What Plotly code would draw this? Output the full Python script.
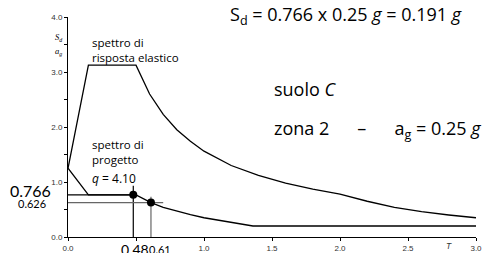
import plotly.graph_objects as go

# Elastic response spectrum (Sd/ag vs T)
T_el = [0.0, 0.15, 0.5, 0.6, 0.7, 0.8, 0.9, 1.0, 1.2, 1.4, 1.6, 1.8, 2.0, 2.2, 2.4, 2.6, 2.8, 3.0]
S_el = [1.25, 3.125, 3.125, 2.60, 2.23, 1.95, 1.74, 1.56, 1.30, 1.12, 0.98, 0.87, 0.78, 0.65, 0.54, 0.46, 0.40, 0.35]

# Design spectrum (q = 4.10)
T_pr = [0.0, 0.15, 0.5, 0.61, 0.7, 0.8, 0.9, 1.0, 1.1, 1.2, 1.3, 1.36, 3.0]
S_pr = [1.25, 0.766, 0.766, 0.626, 0.54, 0.47, 0.405, 0.35, 0.305, 0.265, 0.225, 0.2, 0.2]

# Selected periods and ordinates
T_sel = [0.48, 0.61]
S_sel = [0.766, 0.626]
vline_top = [0.93, 0.73]      # top of vertical guide lines
hline_end = [0.48, 0.70]      # right end of horizontal guide lines
guide_colors = ["black", "#666666"]

x_tickvals = [0.0, 0.5, 1.0, 1.5, 2.0, 2.5, 3.0]
x_ticktext = ["0.0", "", "1.0", "1.5", "2.0", "2.5", "3.0"]
y_tickvals = [0.0, 0.5, 1.0, 1.5, 2.0, 2.5, 3.0, 3.5, 4.0]
y_ticktext = ["0.0", "", "1.0", "", "2.0", "", "3.0", "", "4.0"]

FONT = "Open Sans"
OFF = 8  # page body margin
W, H = 491, 253
L, Tm = 68 - OFF, 17 - OFF
pw, ph = 408, 220
R, B = W - L - pw, H - Tm - ph

fig = go.Figure()
fig.add_trace(go.Scatter(x=T_el, y=S_el, mode="lines", line=dict(color="black", width=1.3),
                         hoverinfo="skip", showlegend=False))
fig.add_trace(go.Scatter(x=T_pr, y=S_pr, mode="lines", line=dict(color="black", width=1.3),
                         hoverinfo="skip", showlegend=False))
for t, s, top, he, c in zip(T_sel, S_sel, vline_top, hline_end, guide_colors):
    fig.add_trace(go.Scatter(x=[t, t], y=[0, top], mode="lines", line=dict(color=c, width=1.2),
                             hoverinfo="skip", showlegend=False))
    fig.add_trace(go.Scatter(x=[0, he], y=[s, s], mode="lines", line=dict(color=c, width=1.2),
                             hoverinfo="skip", showlegend=False))
fig.add_trace(go.Scatter(x=T_sel, y=S_sel, mode="markers", marker=dict(color="black", size=8),
                         hoverinfo="skip", showlegend=False))

ann = []
def A(x, y, text, size, xanchor="left", yanchor="middle", color="black", family=FONT, xshift=0, yshift=0):
    ann.append(dict(x=x, y=y, text=text, xref="x", yref="y", showarrow=False,
                    xanchor=xanchor, yanchor=yanchor, align="left", xshift=xshift, yshift=yshift,
                    font=dict(family=family, size=size, color=color)))

A(0.165, 3.4, "spettro di<br>risposta elastico", 11.5)
A(0.165, 1.55, "spettro di<br>progetto", 11.5)
A(0.165, 1.07, "<i>q</i> = 4.10", 12)
A(1.50, 2.70, "suolo <i>C</i>", 18)
A(1.50, 1.96, "zona 2      –      a<sub>g</sub> = 0.25 <i>g</i>", 18)
A(1.18, 4.0, "S<sub>d</sub> = 0.766 x 0.25 <i>g</i> = 0.191 <i>g</i>", 18, yshift=2)
# value labels
A(0, S_sel[0], "0.766", 16, xanchor="right", family="Lato", xshift=-15, yshift=4)
A(0, S_sel[1], "0.626", 11, xanchor="right", family="Lato", xshift=-20, yshift=-1)
A(T_sel[0], 0, "0.48", 14, xanchor="center", yanchor="top", family="Lato", xshift=2, yshift=-2)
A(T_sel[1], 0, "0.61", 11, xanchor="center", yanchor="top", family="Lato", xshift=9, yshift=-4)
A(2.8, 0, "<i>T</i>", 8.5, xanchor="center", yanchor="top", family="Liberation Sans", color="#333", yshift=-2)
# y-axis label as a fraction
A(0, 3.5, "<i>S<sub>d</sub></i>", 8.5, xanchor="center", family="Liberation Serif", xshift=-10, yshift=7)
A(0, 3.5, "<i>a<sub>g</sub></i>", 8.5, xanchor="center", family="Liberation Serif", xshift=-10, yshift=-7)

fig.update_layout(
    template="none",
    width=W, height=H,
    margin=dict(l=L, r=R, t=Tm, b=B, pad=0, autoexpand=False),
    paper_bgcolor="white", plot_bgcolor="white",
    annotations=ann,
    shapes=[dict(type="line", xref="x", yref="y", x0=-0.105, x1=-0.045, y0=3.5, y1=3.5,
                 line=dict(color="#333", width=0.8))],
    xaxis=dict(range=[0, 3.0], tickvals=x_tickvals, ticktext=x_ticktext, showgrid=False, zeroline=False,
               automargin=False,
               showline=True, linecolor="black", linewidth=1, ticks="outside", ticklen=3, tickcolor="black",
               tickfont=dict(family="Liberation Sans", size=8, color="#333")),
    yaxis=dict(range=[0, 4.0], tickvals=y_tickvals, ticktext=y_ticktext, showgrid=False, zeroline=False,
               automargin=False,
               showline=True, linecolor="black", linewidth=1, ticks="outside", ticklen=3, tickcolor="black",
               tickfont=dict(family="Liberation Sans", size=8, color="#333")),
)
fig.write_html("out.html")
